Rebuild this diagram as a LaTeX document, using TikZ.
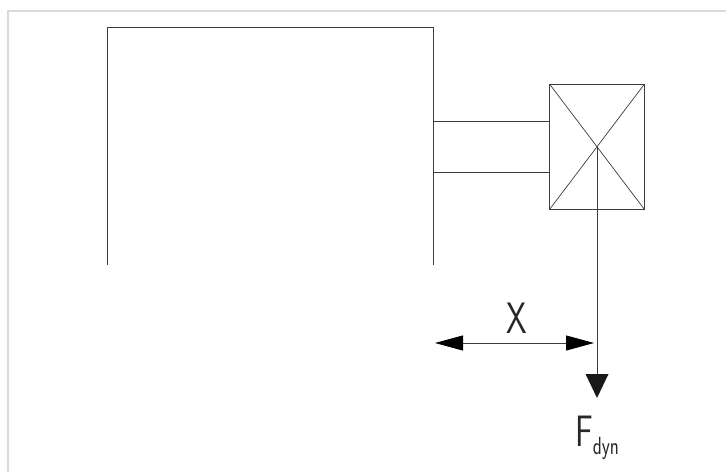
\documentclass[tikz,border=0pt]{standalone}
\usepackage{amsmath}
\usetikzlibrary{arrows.meta,calc}

\begin{document}
\begin{tikzpicture}[x=1pt,y=1pt,yscale=-1,xscale=1,
  part/.style={draw={rgb,255:red,60;green,60;blue,60},line width=0.9pt},
  frameline/.style={draw={rgb,255:red,218;green,218;blue,218},line width=1.3pt},
  dimtip/.style={-{Triangle[length=28pt,width=15pt,black]}},
  caption/.style={inner sep=0pt,xscale=0.75,font=\fontsize{44}{44}\selectfont\sffamily,text={rgb,255:red,40;green,40;blue,40}}]
\useasboundingbox (0,0) rectangle (726,472);

%outer frame
\draw [frameline] (726,11) -- (8,11) -- (8,472);

%machine body
\draw [part] (107,265) -- (107,27.5) -- (433,27.5) -- (433,265);

%neck
\draw [part] (433,121) -- (549.5,121);
\draw [part] (433,172.5) -- (549.5,172.5);

%bearing box
\coordinate (boxA) at (549.5,84);
\coordinate (boxB) at (644.5,209.5);
\draw [part] (boxA) rectangle (boxB);
\draw [part,line width=0.7pt] (boxA) -- (boxB);
\draw [part,line width=0.7pt] (boxA -| boxB) -- (boxA |- boxB);

%force line
\coordinate (load) at (597,147);
\coordinate (tip) at (597,398);
\draw [part] (load) -- (597,380);
\fill [black!90] (585.5,374) -- (608.5,374) -- (tip) -- cycle;

%distance
\coordinate (dimL) at (435,343);
\coordinate (dimR) at (594,343);
\draw [part,dimtip] ($(dimL)!0.5!(dimR)$) -- (dimR);
\draw [part,dimtip] ($(dimL)!0.5!(dimR)$) -- (dimL);

% Text Node
\node [caption] (labelX) at (517,318.5) {X};
% Text Node
\node [caption,anchor=base west] (labelF) at (575,446) {F$_{\mathsf{dyn}}$};

\end{tikzpicture}
\end{document}
